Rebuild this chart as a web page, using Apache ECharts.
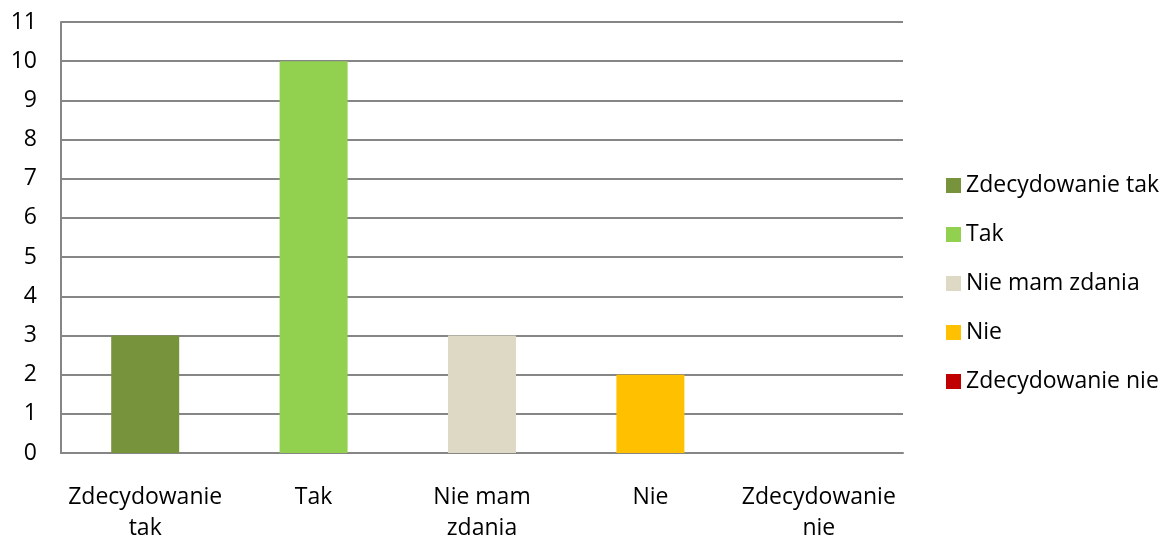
<!DOCTYPE html>
<html>
<head>
<meta charset="utf-8">
<script src="https://cdn.jsdelivr.net/npm/echarts@6/dist/echarts.min.js"></script>
<style>
  html, body { margin: 0; padding: 0; background: #fff; }
  #chart { width: 1165px; height: 537px; }
</style>
</head>
<body>
<div id="chart"></div>
<script>
const categories = ['Zdecydowanie tak', 'Tak', 'Nie mam zdania', 'Nie', 'Zdecydowanie nie'];
const axisLabels = ['Zdecydowanie\ntak', 'Tak', 'Nie mam\nzdania', 'Nie', 'Zdecydowanie\nnie'];
const values = [3, 10, 3, 2, 0];
const colors = ['#77933C', '#92D050', '#DDD9C4', '#FFC000', '#C00000'];

const chart = echarts.init(document.getElementById('chart'));

// one series per answer so the legend lists each of them
const series = categories.map((name, i) => ({
  name: name,
  type: 'bar',
  stack: 'all',
  barWidth: 68,
  itemStyle: { color: colors[i] },
  data: values.map((v, j) => (j === i ? v : '-'))
}));

chart.setOption({
  animation: false,
  textStyle: { fontFamily: '"Open Sans", sans-serif' },
  grid: { left: 61, right: 262, top: 22, bottom: 84, outerBoundsMode: 'none' },
  legend: {
    orient: 'vertical',
    left: 946,
    top: 174,
    padding: 0,
    itemWidth: 15,
    itemHeight: 15,
    itemGap: 26,
    icon: 'rect',
    textStyle: { fontSize: 23, lineHeight: 22, color: '#000' },
    data: categories
  },
  xAxis: {
    type: 'category',
    data: axisLabels,
    axisTick: { show: false },
    axisLine: { lineStyle: { color: '#868686', width: 2 } },
    axisLabel: { color: '#000', fontSize: 23, lineHeight: 31, margin: 29, interval: 0 }
  },
  yAxis: {
    type: 'value',
    min: 0,
    max: 11,
    interval: 1,
    axisLine: { show: true, lineStyle: { color: '#868686', width: 2 } },
    axisTick: { show: false },
    splitLine: { lineStyle: { color: '#868686', width: 2 } },
    axisLabel: { color: '#000', fontSize: 23, margin: 24 }
  },
  series: series
});
</script>
</body>
</html>
